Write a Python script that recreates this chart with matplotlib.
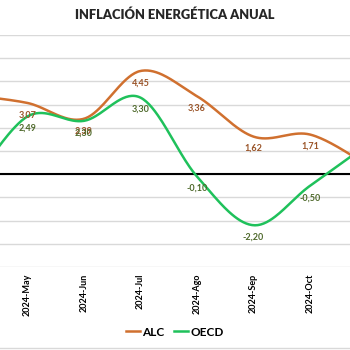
import numpy as np
import matplotlib
matplotlib.use("Agg")
import matplotlib.pyplot as plt
from matplotlib.lines import Line2D

# datos (el primer y el ultimo mes quedan fuera del recorte)
meses = ["2024-Abr", "2024-May", "2024-Jun", "2024-Jul", "2024-Ago", "2024-Sep", "2024-Oct", "2024-Nov"]
alc = [3.40, 3.07, 2.39, 4.45, 3.36, 1.62, 1.71, 0.42]
oecd = [-0.50, 2.49, 2.30, 3.30, -0.10, -2.20, -0.50, 1.25]
visibles = [1, 2, 3, 4, 5, 6]   # meses con etiqueta

C_ALC = "#D0702F"
C_OECD = "#1FC15B"
T_ALC = "#9A5428"
T_OECD = "#4F6A2C"


def suavizar(x, y, n=40):
    # curva tipo "linea suavizada" de Excel (Catmull-Rom)
    x = np.asarray(x, float)
    y = np.asarray(y, float)
    px = np.concatenate([[x[0]], x, [x[-1]]])
    py = np.concatenate([[y[0]], y, [y[-1]]])
    xs, ys = [], []
    for i in range(1, len(px) - 2):
        t = np.linspace(0, 1, n)
        m0x, m1x = (px[i + 1] - px[i - 1]) / 2, (px[i + 2] - px[i]) / 2
        m0y, m1y = (py[i + 1] - py[i - 1]) / 2, (py[i + 2] - py[i]) / 2
        h00 = 2 * t**3 - 3 * t**2 + 1
        h10 = t**3 - 2 * t**2 + t
        h01 = -2 * t**3 + 3 * t**2
        h11 = t**3 - t**2
        xs.append(h00 * px[i] + h10 * m0x + h01 * px[i + 1] + h11 * m1x)
        ys.append(h00 * py[i] + h10 * m0y + h01 * py[i + 1] + h11 * m1y)
    return np.concatenate(xs), np.concatenate(ys)


plt.rcParams['font.family'] = ['Lato', 'DejaVu Sans']

fig = plt.figure(figsize=(3.5, 3.5), dpi=100)
ax = fig.add_axes([0, 83 / 350, 1, 232 / 350])

x = np.arange(len(meses))
for serie, col in [(alc, C_ALC), (oecd, C_OECD)]:
    sx, sy = suavizar(x, serie)
    ax.plot(sx, sy, color=col, lw=1.8, solid_capstyle='round', zorder=3)

for i in visibles:
    ax.text(x[i], alc[i] - 0.32, f"{alc[i]:.2f}".replace(".", ","), color=T_ALC,
            ha='center', va='top', fontsize=6.5, fontweight='bold', zorder=4)
    ax.text(x[i], oecd[i] - 0.32, f"{oecd[i]:.2f}".replace(".", ","), color=T_OECD,
            ha='center', va='top', fontsize=6.5, fontweight='bold', zorder=4)

ax.axhline(0, color='black', lw=1.5, zorder=2)
ax.set_ylim(-4, 6)
ax.set_yticks(np.arange(-4, 7, 1))
ax.yaxis.grid(True, color='#D9D9D9', lw=1)
ax.set_axisbelow(True)
ax.set_xlim(1 - 27.5 / 56.5, 1 + 322.5 / 56.5)
ax.set_xticks(x[visibles])
ax.set_xticklabels([meses[i] for i in visibles], rotation=90, fontsize=6.5, fontweight='bold')
ax.tick_params(axis='x', length=0, pad=5)
ax.tick_params(axis='y', length=0, labelleft=False)
for s in ax.spines.values():
    s.set_visible(False)

fig.text(0.5, 1 - 15 / 350, "INFLACIÓN ENERGÉTICA ANUAL", ha='center', va='center',
         fontsize=9.3, fontweight='heavy', color='#262626')

handles = [Line2D([], [], color=C_ALC, lw=1.8), Line2D([], [], color=C_OECD, lw=1.8)]
fig.legend(handles, ["ALC", "OECD"], loc='center', bbox_to_anchor=(0.5, 1 - 332 / 350),
           ncol=2, frameon=False, prop={'weight': 'bold', 'size': 8.5},
           handlelength=1.2, handletextpad=0.2, columnspacing=0.8)

fig.add_artist(Line2D([0, 1], [1 - 348 / 350] * 2, color='#D9D9D9', lw=1))

fig.savefig("out.png", dpi=100)
